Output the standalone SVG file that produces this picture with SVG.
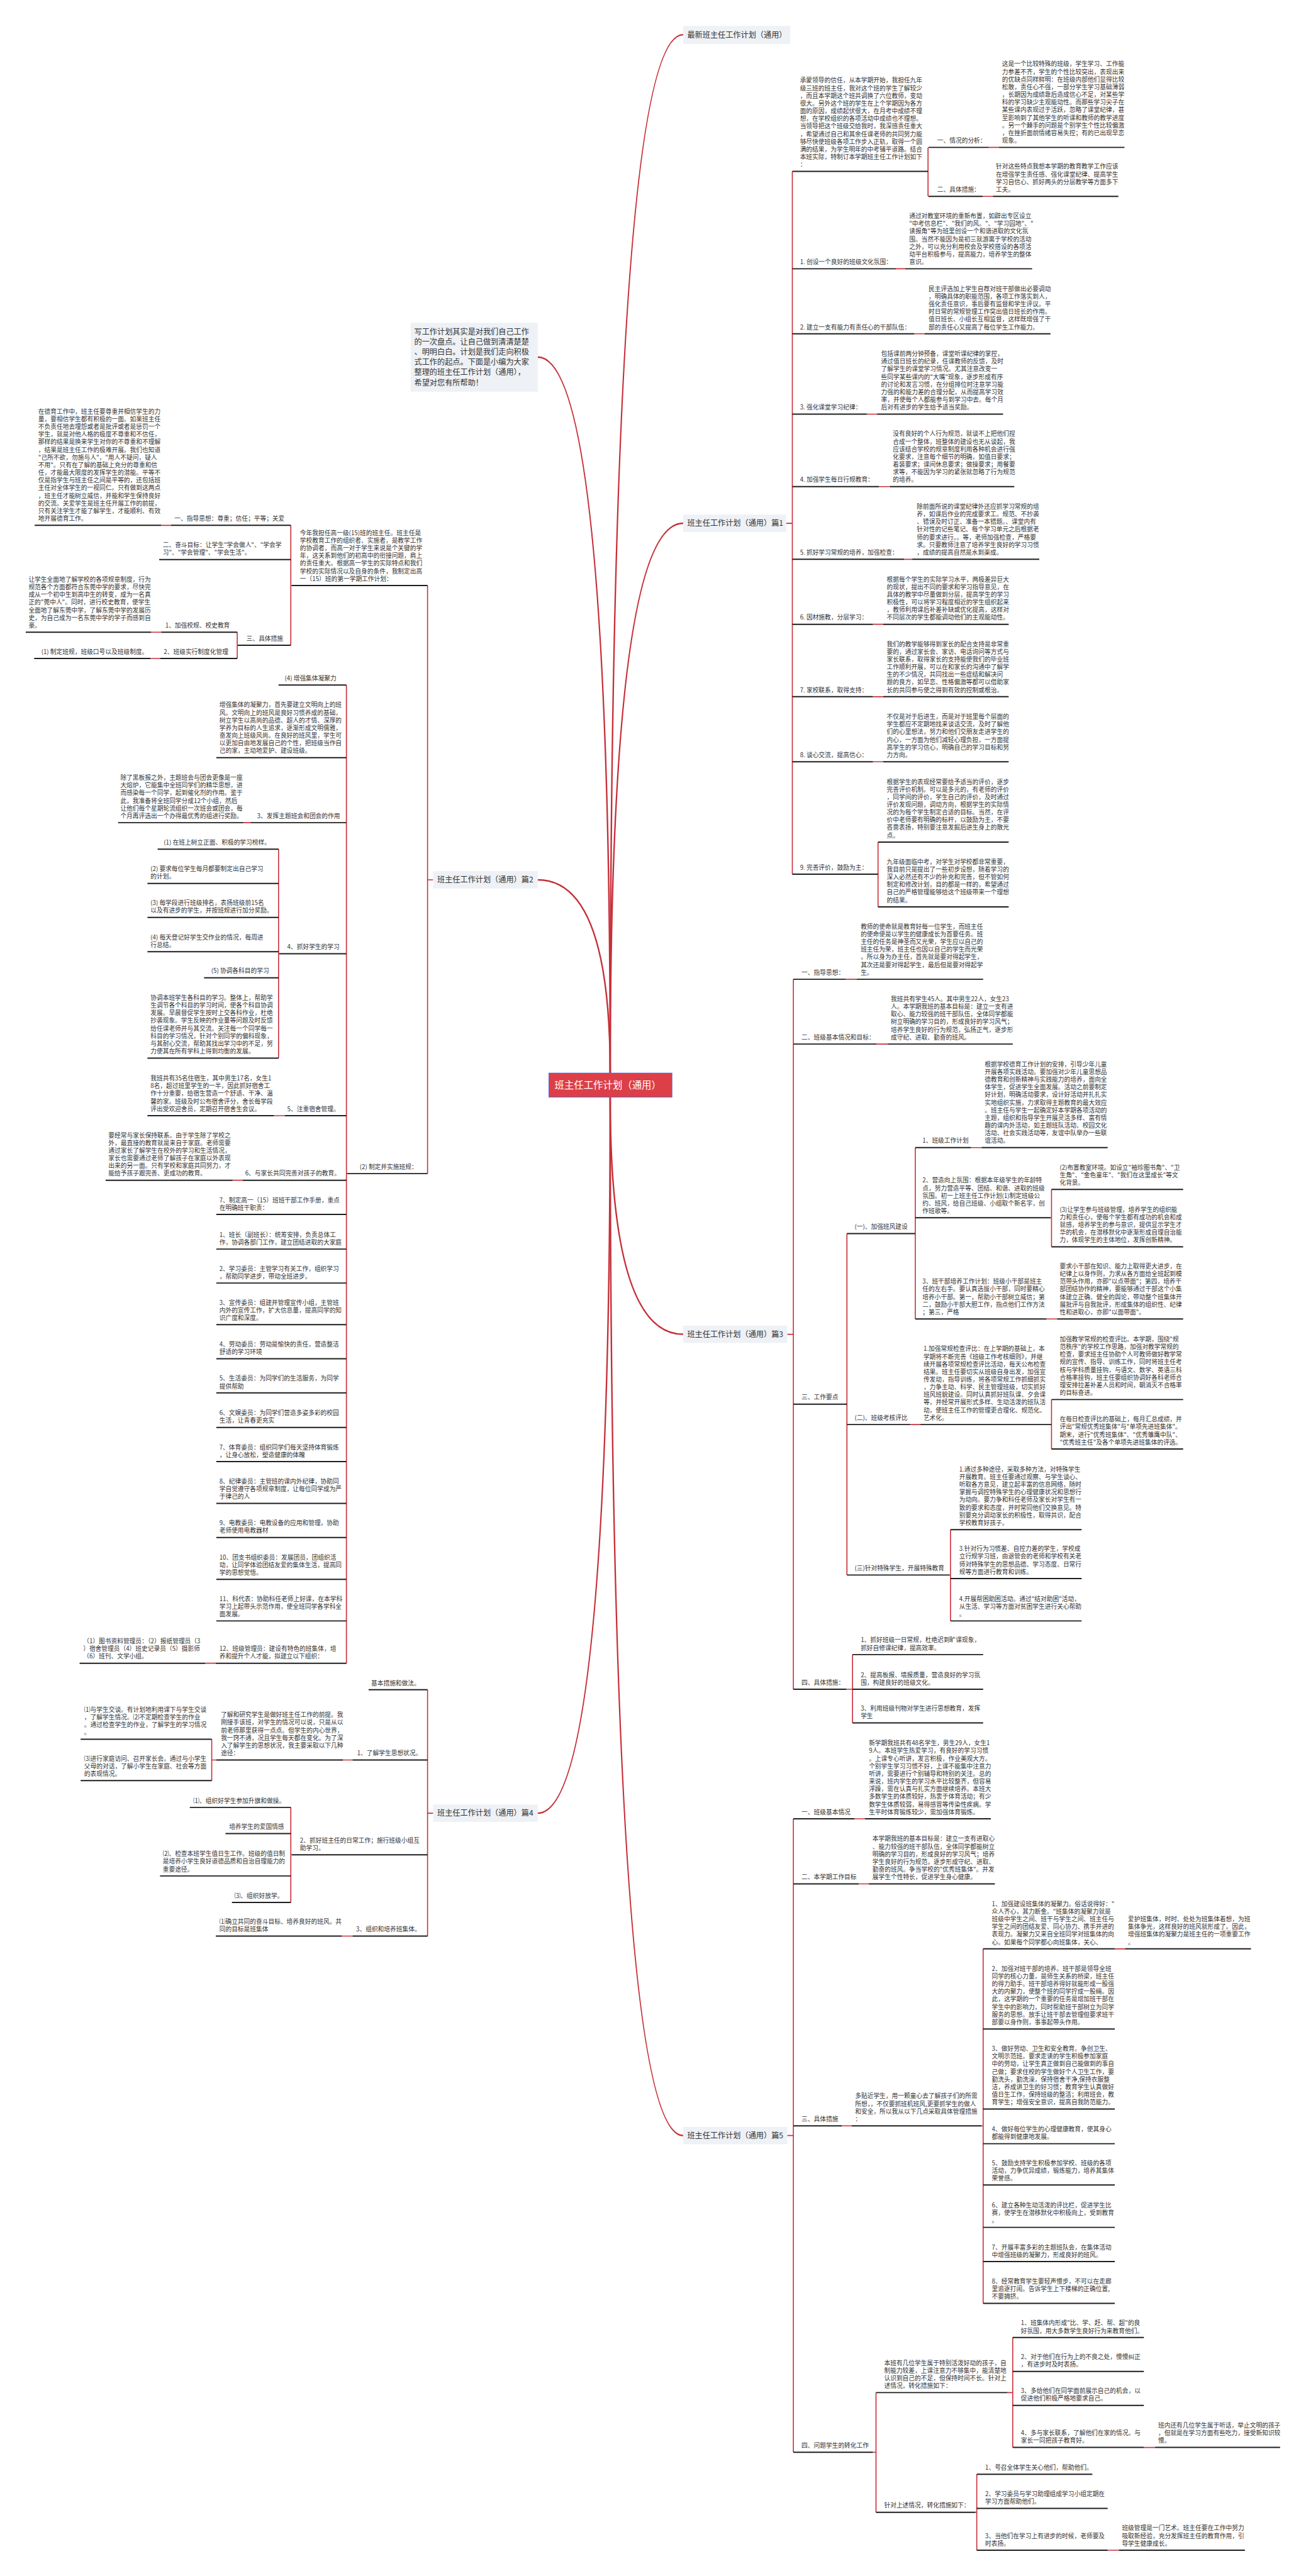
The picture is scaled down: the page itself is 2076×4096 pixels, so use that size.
<svg xmlns="http://www.w3.org/2000/svg" width="2076" height="4096" viewBox="0 0 2076 4096">
<style>
.t{font-family:"Noto Sans CJK SC","Noto Sans",sans-serif;font-size:12px;fill:#333}
.b{font-family:"Noto Sans CJK SC","Noto Sans",sans-serif;font-size:15px;fill:#333}
.i{font-family:"Noto Sans CJK SC","Noto Sans",sans-serif;font-size:15px;fill:#333}
.ct{font-family:"Noto Sans CJK SC","Noto Sans",sans-serif;font-size:19px;fill:#fff}
.u{stroke:#1e1e1e;stroke-width:2.4}
.c{stroke:#c8303a;stroke-width:2;fill:none}
.m{stroke:#c62f38;stroke-width:3;fill:none}
.bx{fill:#eef1f5}
</style>
<rect width="2076" height="4096" fill="#fff"/>
<g transform="scale(0.811)">
<g id="connectors">
<path class="m" d="M1196,2104 Q1196,68 1339,68"/>
<path class="m" d="M1196,2104 Q1196,1026 1339,1026"/>
<path class="m" d="M1196,2104 Q1196,700 1054,700"/>
<path class="m" d="M1196,2104 Q1196,1725 1054,1725"/>
<path class="m" d="M1196,2151 Q1196,2616 1339,2616"/>
<path class="m" d="M1196,2151 Q1196,3555 1054,3555"/>
<path class="m" d="M1196,2151 Q1196,4187 1339,4187"/>
<path class="c" d="M1541,1026H1553M1553,336V1714M1819,289V385M1938,289H1958M1926,385H1946M1756,527H1774M1792,654.5H1812M1699,812H1719M1723,954H1744M1772,1096.6H1788M1711,1224H1731M1711,1366H1731M1711,1493.5H1731M1721,1651V1778"/>
<path class="c" d="M1543,2616H1555M1555,1920V3312M1658,1920H1679M1718,2047H1740M1660,2418.5V3088M1794,2250V2586M1903,2250H1924M2059,2387.6H2061M2061,2332V2444.5M2051,2586H2072M1784,2793H1804M2061,2744V2841M1861,3088H1863M1863,2999V3178M1659,3312H1671M1671,3244V3378"/>
<path class="c" d="M1543,4187H1555M1555,3566V4808M1675,3566H1695M1683,3693.6H1703M1650,4168H1669M1924,4168H1927M1927,3821V4516M2185,3821H2205M1711,4808H1717M1717,4691V4925.6M1974,4691H1985M1985,4583V4798.5M2242,4798.5H2264M1912,4925.6H1914.5M1914.5,4851V5000M2171,5000H2193"/>
<path class="c" d="M849,1725H838M838,1148V2301M572,1148H570M570,1030V1265M335,1030H316M466,1265H465M465,1239.5V1291M316,1239.5H296M314,1291H295M680,2301H679M679,1343V3261M491,1613H477M547,1870H546M546,1665V2074.5M558,2187.5H537M476,2314H456M423,3261H402"/>
<path class="c" d="M849,3555H838M838,3313V3796M691,3450.6H672M424,3450.6H415M415,3410V3491M572,3636.6H570M570,3543.6V3730M691,3796H670"/>
</g>

<g id="center">
<rect x="1076" y="2104" width="241" height="47" fill="#dc3f48" stroke="#6a62c4" stroke-width="1.5"/>
<text class="ct" x="1087" y="2134">班主任工作计划（通用）</text>
</g>

<g id="top"><rect class="bx" x="1339" y="51" width="210" height="35"/><text class="b" x="1347" y="74">最新班主任工作计划（通用）</text></g>

<g id="intro"><rect class="bx" x="805" y="633" width="249" height="135"/>
<text class="i"><tspan x="812" y="655.5">写工作计划其实是对我们自己工作</tspan><tspan x="812" y="675.5">的一次盘点。让自己做到清清楚楚</tspan><tspan x="812" y="695.5">、明明白白。计划是我们走向积极</tspan><tspan x="812" y="715.5">式工作的起点。下面是小编为大家</tspan><tspan x="812" y="735.5">整理的班主任工作计划（通用），</tspan><tspan x="812" y="755.5">希望对您有所帮助！</tspan></text></g>

<!-- 篇1 -->
<g id="p1"><rect class="bx" x="1339" y="1009" width="202" height="34"/><text class="b" x="1347" y="1031">班主任工作计划（通用）篇1</text></g>
<g id="a1"><text class="t"><tspan x="1568" y="162">承蒙领导的信任，从本学期开始，我担任九年</tspan><tspan x="1568" y="177">级三班的班主任，我对这个班的学生了解较少</tspan><tspan x="1568" y="192">，而且本学期这个班共调换了六位教师，变动</tspan><tspan x="1568" y="207">很大。另外这个班的学生在上个学期因为各方</tspan><tspan x="1568" y="222">面的原因，成绩起伏很大，在月考中成绩不理</tspan><tspan x="1568" y="237">想，在学校组织的各项活动中成绩也不理想。</tspan><tspan x="1568" y="252">当领导把这个班级交给我时，我深感责任重大</tspan><tspan x="1568" y="267">，希望通过自己和其余任课老师的共同努力能</tspan><tspan x="1568" y="282">够尽快使班级各项工作步入正轨，取得一个圆</tspan><tspan x="1568" y="297">满的结果，为学生明年的中考铺平道路。结合</tspan><tspan x="1568" y="312">本班实际，特制订本学期班主任工作计划如下</tspan><tspan x="1568" y="327">：</tspan></text><line class="u" x1="1553" y1="336" x2="1819" y2="336"/></g>
<g id="a1a"><text class="t" x="1837" y="280">一、情况的分析：</text><line class="u" x1="1820" y1="289" x2="1938" y2="289"/></g>
<g id="a1a1"><text class="t"><tspan x="1964" y="130">这是一个比较特殊的班级，学生学习、工作能</tspan><tspan x="1964" y="145">力参差不齐，学生的个性比较突出，表现出来</tspan><tspan x="1964" y="160">的优缺点同样鲜明：在班级内部他们显得比较</tspan><tspan x="1964" y="175">松散，责任心不强，一部分学生学习基础薄弱</tspan><tspan x="1964" y="190">，长期因为成绩靠后造成信心不足，对某些学</tspan><tspan x="1964" y="205">科的学习缺少主观能动性。而那些学习尖子在</tspan><tspan x="1964" y="220">某些课内表现过于活跃，忽略了课堂纪律，甚</tspan><tspan x="1964" y="235">至影响到了其他学生的听课和教师的教学进度</tspan><tspan x="1964" y="250">。另一个棘手的问题是个别学生个性比较偏激</tspan><tspan x="1964" y="265">，在挫折面前情绪容易失控；有的已出现早恋</tspan><tspan x="1964" y="280">现象。</tspan></text><line class="u" x1="1958" y1="289" x2="2204" y2="289"/></g>
<g id="a1b"><text class="t" x="1837" y="376">二、具体措施：</text><line class="u" x1="1820" y1="385" x2="1926" y2="385"/></g>
<g id="a1b1"><text class="t"><tspan x="1952" y="331">针对这些特点我想本学期的教育教学工作应该</tspan><tspan x="1952" y="346">在增强学生责任感、强化课堂纪律、提高学生</tspan><tspan x="1952" y="361">学习自信心、抓好两头的分层教学等方面多下</tspan><tspan x="1952" y="376">工夫。</tspan></text><line class="u" x1="1946" y1="385" x2="2192" y2="385"/></g>
<g id="a2"><text class="t" x="1568" y="518">1. 创设一个良好的班级文化氛围：</text><line class="u" x1="1553" y1="527" x2="1756" y2="527"/></g>
<g id="a2a"><text class="t"><tspan x="1782" y="428">通过对教室环境的重新布置，如辟出专区设立</tspan><tspan x="1782" y="443">"中考信息栏"、"我们的风。"、"学习园地"、"</tspan><tspan x="1782" y="458">读报角"等为班里创设一个和谐进取的文化氛</tspan><tspan x="1782" y="473">围。当然不能因为是初三就游离于学校的活动</tspan><tspan x="1782" y="488">之外，可以充分利用校会及学校搭设的各项活</tspan><tspan x="1782" y="503">动平台积极参与，提高能力，培养学生的整体</tspan><tspan x="1782" y="518">意识。</tspan></text><line class="u" x1="1774" y1="527" x2="2023" y2="527"/></g>
<g id="a3"><text class="t" x="1568" y="645.5">2. 建立一支有能力有责任心的干部队伍：</text><line class="u" x1="1553" y1="654.5" x2="1792" y2="654.5"/></g>
<g id="a3a"><text class="t"><tspan x="1820" y="570.5">民主评选加上学生自荐对班干部做出必要调动</tspan><tspan x="1820" y="585.5">，明确具体的职能范围，各项工作落实到人，</tspan><tspan x="1820" y="600.5">强化责任意识，事后要有监督和学生评议。平</tspan><tspan x="1820" y="615.5">时日常的常规管理工作突出值日班长的作用。</tspan><tspan x="1820" y="630.5">值日班长、小组长互相监督，这样既增强了干</tspan><tspan x="1820" y="645.5">部的责任心又提高了每位学生工作能力。</tspan></text><line class="u" x1="1812" y1="654.5" x2="2059" y2="654.5"/></g>
<g id="a4"><text class="t" x="1568" y="803">3. 强化课堂学习纪律：</text><line class="u" x1="1553" y1="812" x2="1699" y2="812"/></g>
<g id="a4a"><text class="t"><tspan x="1727" y="698">包括课前两分钟预备，课堂听课纪律的掌控，</tspan><tspan x="1727" y="713">通过值日班长的纪录，任课教师的反馈，及时</tspan><tspan x="1727" y="728">了解学生的课堂学习情况。尤其注意改变一</tspan><tspan x="1727" y="743">些同学某些课内的"大嘴"现象，逐步形成有序</tspan><tspan x="1727" y="758">的讨论和发言习惯，在分组排位时注意学习能</tspan><tspan x="1727" y="773">力强的和能力差的合理分配，从而提高学习效</tspan><tspan x="1727" y="788">率，并使每个人都能参与到学习中去。每个月</tspan><tspan x="1727" y="803">后对有进步的学生给予适当奖励。</tspan></text><line class="u" x1="1719" y1="812" x2="1966" y2="812"/></g>
<g id="a5"><text class="t" x="1568" y="945">4. 加强学生每日行规教育：</text><line class="u" x1="1553" y1="954" x2="1723" y2="954"/></g>
<g id="a5a"><text class="t"><tspan x="1750" y="855">没有良好的个人行为规范，就谈不上把他们捏</tspan><tspan x="1750" y="870">合成一个整体，班整体的建设也无从谈起，我</tspan><tspan x="1750" y="885">应该结合学校的规章制度利用各种机会进行强</tspan><tspan x="1750" y="900">化要求，注意每个细节的明确，如值日要求；</tspan><tspan x="1750" y="915">着装要求；课间休息要求；做操要求；用餐要</tspan><tspan x="1750" y="930">求等，不能因为学习的紧张就忽略了行为规范</tspan><tspan x="1750" y="945">的培养。</tspan></text><line class="u" x1="1744" y1="954" x2="1988" y2="954"/></g>
<g id="a6"><text class="t" x="1568" y="1087.5">5. 抓好学习常规的培养，加强检查：</text><line class="u" x1="1553" y1="1096.6" x2="1772" y2="1096.6"/></g>
<g id="a6a"><text class="t"><tspan x="1797" y="997.5">除前面所说的课堂纪律外还应抓学习常规的培</tspan><tspan x="1797" y="1012.5">养，如课后作业的完成要求工。规范、不抄袭</tspan><tspan x="1797" y="1027.5">、错误及时订正、准备一本错题。、课堂内有</tspan><tspan x="1797" y="1042.5">针对性的记些笔记、每个学习单元之后根据老</tspan><tspan x="1797" y="1057.5">师的要求进行。。等，老师加强检查，严格要</tspan><tspan x="1797" y="1072.5">求。只要教师注意了培养学生良好的学习习惯</tspan><tspan x="1797" y="1087.5">，成绩的提高自然是水到渠成。</tspan></text><line class="u" x1="1788" y1="1096.6" x2="2037" y2="1096.6"/></g>
<g id="a7"><text class="t" x="1568" y="1215">6. 因材施教，分层学习：</text><line class="u" x1="1553" y1="1224" x2="1711" y2="1224"/></g>
<g id="a7a"><text class="t"><tspan x="1738" y="1140">根据每个学生的实际学习水平，两极差异巨大</tspan><tspan x="1738" y="1155">的现状，提出不同的要求和学习指导意见，在</tspan><tspan x="1738" y="1170">具体的教学中尽量做到分层，提高学生的学习</tspan><tspan x="1738" y="1185">积极性，可以将学习程度相近的学生组织起来</tspan><tspan x="1738" y="1200">，教师利用课后补差补缺或优化提高，这样对</tspan><tspan x="1738" y="1215">不同层次的学生都能调动他们的主观能动性。</tspan></text><line class="u" x1="1731" y1="1224" x2="1977" y2="1224"/></g>
<g id="a8"><text class="t" x="1568" y="1357">7. 家校联系，取得支持：</text><line class="u" x1="1553" y1="1366" x2="1711" y2="1366"/></g>
<g id="a8a"><text class="t"><tspan x="1738" y="1267">我们的教学能够得到家长的配合支持是非常重</tspan><tspan x="1738" y="1282">要的，通过家长会、家访、电话询问等方式与</tspan><tspan x="1738" y="1297">家长联系，取得家长的支持能使我们的毕业班</tspan><tspan x="1738" y="1312">工作顺利开展，可以在和家长的沟通中了解学</tspan><tspan x="1738" y="1327">生的不少情况，共同找出一些症结和解决问</tspan><tspan x="1738" y="1342">题的良方，如早恋、性格偏激等都可以借助家</tspan><tspan x="1738" y="1357">长的共同参与使之得到有效的控制或根治。</tspan></text><line class="u" x1="1731" y1="1366" x2="1977" y2="1366"/></g>
<g id="a9"><text class="t" x="1568" y="1484.5">8. 谈心交流，提高信心：</text><line class="u" x1="1553" y1="1493.5" x2="1711" y2="1493.5"/></g>
<g id="a9a"><text class="t"><tspan x="1738" y="1409.5">不仅是对于后进生，而是对于班里每个层面的</tspan><tspan x="1738" y="1424.5">学生都应不定期地找来谈话交流，及时了解他</tspan><tspan x="1738" y="1439.5">们的心里想法，努力和他们交朋友走进学生的</tspan><tspan x="1738" y="1454.5">内心，一方面为他们减轻心理负担，一方面提</tspan><tspan x="1738" y="1469.5">高学生的学习信心，明确自己的学习目标和努</tspan><tspan x="1738" y="1484.5">力方向。</tspan></text><line class="u" x1="1731" y1="1493.5" x2="1977" y2="1493.5"/></g>
<g id="a10"><text class="t" x="1568" y="1705">9. 完善评价，鼓励为主：</text><line class="u" x1="1553" y1="1714" x2="1721" y2="1714"/></g>
<g id="a10a"><text class="t"><tspan x="1738" y="1537">根据学生的表现经常要给予适当的评价，逐步</tspan><tspan x="1738" y="1552">完善评价机制。可以是多元的，有老师的评价</tspan><tspan x="1738" y="1567">，同学间的评价，学生自己的评价，及时通过</tspan><tspan x="1738" y="1582">评价发现问题，调动方向，根据学生的实际情</tspan><tspan x="1738" y="1597">况的为每个学生制定合适的目标。当然，在评</tspan><tspan x="1738" y="1612">价中老师要有明确的标杆，以鼓励为主，不要</tspan><tspan x="1738" y="1627">吝啬表扬，特别要注意发掘后进生身上的散光</tspan><tspan x="1738" y="1642">点。</tspan></text><line class="u" x1="1721" y1="1651" x2="1977" y2="1651"/></g>
<g id="a10b"><text class="t"><tspan x="1738" y="1694">九年级面临中考，对学生对学校都非常重要，</tspan><tspan x="1738" y="1709">我目前只是提出了一些初步设想，随着学习的</tspan><tspan x="1738" y="1724">深入必然还有不少的补充和完善，但不管如何</tspan><tspan x="1738" y="1739">制定和修改计划，目的都是一样的，希望通过</tspan><tspan x="1738" y="1754">自己的严格管理能够给这个班级带来一个理想</tspan><tspan x="1738" y="1769">的结果。</tspan></text><line class="u" x1="1721" y1="1778" x2="1977" y2="1778"/></g>

<!-- 篇3 -->
<g id="p3"><rect class="bx" x="1339" y="2599" width="204" height="34"/><text class="b" x="1347" y="2621">班主任工作计划（通用）篇3</text></g>
<g id="b1"><text class="t" x="1571" y="1911">一、指导思想：</text><line class="u" x1="1555" y1="1920" x2="1658" y2="1920"/></g>
<g id="b1a"><text class="t"><tspan x="1687" y="1821">教师的使命就是教育好每一位学生，而班主任</tspan><tspan x="1687" y="1836">的使命便是以学生的健康成长为首要任务。班</tspan><tspan x="1687" y="1851">主任的任务是神圣而又光荣，学生应以自己的</tspan><tspan x="1687" y="1866">班主任为荣，班主任也因以自己的学生而光荣</tspan><tspan x="1687" y="1881">。所以身为办主任，首先就是要对得起学生，</tspan><tspan x="1687" y="1896">其次还是要对得起学生，最后但是要对得起学</tspan><tspan x="1687" y="1911">生。</tspan></text><line class="u" x1="1679" y1="1920" x2="1927" y2="1920"/></g>
<g id="b2"><text class="t" x="1571" y="2038">二、班级基本情况和目标：</text><line class="u" x1="1555" y1="2047" x2="1718" y2="2047"/></g>
<g id="b2a"><text class="t"><tspan x="1746" y="1963">我班共有学生45人。其中男生22人，女生23</tspan><tspan x="1746" y="1978">人。本学期我班的基本目标是：建立一支有进</tspan><tspan x="1746" y="1993">取心、能力较强的班干部队伍，全体同学都能</tspan><tspan x="1746" y="2008">树立明确的学习目的，形成良好的学习风气；</tspan><tspan x="1746" y="2023">培养学生良好的行为规范，弘扬正气，逐步形</tspan><tspan x="1746" y="2038">成守纪、进取、勤奋的班风。</tspan></text><line class="u" x1="1740" y1="2047" x2="1985" y2="2047"/></g>
<g id="b3"><text class="t" x="1571" y="2744">三、工作要点</text><line class="u" x1="1555" y1="2753" x2="1660" y2="2753"/></g>
<g id="b3a"><text class="t" x="1675" y="2409.5">(一)、加强班风建设</text><line class="u" x1="1660" y1="2418.5" x2="1794" y2="2418.5"/></g>
<g id="b3a1"><text class="t" x="1808" y="2241">1、班级工作计划</text><line class="u" x1="1794" y1="2250" x2="1903" y2="2250"/></g>
<g id="b3a1a"><text class="t"><tspan x="1930" y="2091">根据学校德育工作计划的安排，引导少年儿童</tspan><tspan x="1930" y="2106">开展各项实践活动。要加强对少年儿童思想品</tspan><tspan x="1930" y="2121">德教育和创新精神与实践能力的培养，面向全</tspan><tspan x="1930" y="2136">体学生，促进学生全面发展。活动之前要制定</tspan><tspan x="1930" y="2151">好计划，明确活动要求，设计好活动并扎扎实</tspan><tspan x="1930" y="2166">实地组织实施，力求取得主题教育的最大效应</tspan><tspan x="1930" y="2181">。班主任与学生一起确定好本学期各项活动的</tspan><tspan x="1930" y="2196">主题，组织和指导学生开展灵活多样、富有情</tspan><tspan x="1930" y="2211">趣的课内外活动，如主题班队活动、校园文化</tspan><tspan x="1930" y="2226">活动、社会实践活动等，友谊中队举办一些联</tspan><tspan x="1930" y="2241">谊活动。</tspan></text><line class="u" x1="1924" y1="2250" x2="2171" y2="2250"/></g>
<g id="b3a2"><text class="t"><tspan x="1808" y="2318.6">2、营造向上氛围：根据本年级学生的年龄特</tspan><tspan x="1808" y="2333.6">点，努力营造平等、团结、和谐、进取的班级</tspan><tspan x="1808" y="2348.6">氛围。初一上班主任工作计划(1)制定班级公</tspan><tspan x="1808" y="2363.6">约、班风，给自己班级、小组取个新名字，创</tspan><tspan x="1808" y="2378.6">作班歌等。</tspan></text><line class="u" x1="1794" y1="2387.6" x2="2059" y2="2387.6"/></g>
<g id="b3a2a"><text class="t"><tspan x="2077" y="2293">(2)布置教室环境。如设立"袖珍图书角"、"卫</tspan><tspan x="2077" y="2308">生角"、"金色童年"、"我们在这里成长"等文</tspan><tspan x="2077" y="2323">化背景。</tspan></text><line class="u" x1="2061" y1="2332" x2="2319" y2="2332"/></g>
<g id="b3a2b"><text class="t"><tspan x="2077" y="2375.5">(3)让学生参与班级管理，培养学生的组织能</tspan><tspan x="2077" y="2390.5">力和责任心，使每个学生都有成功的机会和成</tspan><tspan x="2077" y="2405.5">就感，培养学生的参与意识，提供显示学生才</tspan><tspan x="2077" y="2420.5">华的机会，在潜移默化中逐渐形成自理自治能</tspan><tspan x="2077" y="2435.5">力，体现学生的主体地位，发挥创新精神。</tspan></text><line class="u" x1="2061" y1="2444.5" x2="2319" y2="2444.5"/></g>
<g id="b3a3"><text class="t"><tspan x="1808" y="2517">3、班干部培养工作计划：班级小干部是班主</tspan><tspan x="1808" y="2532">任的左右手。要认真选拔小干部，同时要精心</tspan><tspan x="1808" y="2547">培养小干部。第一，帮助小干部树立威信；第</tspan><tspan x="1808" y="2562">二，鼓励小干部大胆工作，指点他们工作方法</tspan><tspan x="1808" y="2577">；第三，严格</tspan></text><line class="u" x1="1794" y1="2586" x2="2051" y2="2586"/></g>
<g id="b3a3a"><text class="t"><tspan x="2077" y="2487">要求小干部在知识、能力上取得更大进步，在</tspan><tspan x="2077" y="2502">纪律上以身作则，力求从各方面给全班起到模</tspan><tspan x="2077" y="2517">范带头作用，亦即"以点带面"；第四，培养干</tspan><tspan x="2077" y="2532">部团结协作的精神，要能够通过干部这个小集</tspan><tspan x="2077" y="2547">体建立正确、健全的舆论，带动整个班集体开</tspan><tspan x="2077" y="2562">展批评与自我批评，形成集体的组织性、纪律</tspan><tspan x="2077" y="2577">性和进取心，亦即"以面带面"。</tspan></text><line class="u" x1="2072" y1="2586" x2="2319" y2="2586"/></g>
<g id="b3b"><text class="t" x="1675" y="2784">(二)、班级考核评比</text><line class="u" x1="1660" y1="2793" x2="1784" y2="2793"/></g>
<g id="b3b1"><text class="t"><tspan x="1810" y="2649">1.加强常规检查评比：在上学期的基础上，本</tspan><tspan x="1810" y="2664">学期将不断完善《班级工作考核细则》，并继</tspan><tspan x="1810" y="2679">续开展各项常规检查评比活动，每天公布检查</tspan><tspan x="1810" y="2694">结果。班主任要切实从班级自身出发，加强宣</tspan><tspan x="1810" y="2709">传发动，指导训练，将各项常规工作抓细抓实</tspan><tspan x="1810" y="2724">，力争主动、科学、民主管理班级，切实抓好</tspan><tspan x="1810" y="2739">班风班貌建设。同时认真抓好班队课、夕会课</tspan><tspan x="1810" y="2754">等，并经常开展形式多样、生动活泼的班队活</tspan><tspan x="1810" y="2769">动，使班主任工作的管理更合理化、规范化、</tspan><tspan x="1810" y="2784">艺术化。</tspan></text><line class="u" x1="1804" y1="2793" x2="2061" y2="2793"/></g>
<g id="b3b1a"><text class="t"><tspan x="2077" y="2630">加强教学常规的检查评比。本学期，围绕"规</tspan><tspan x="2077" y="2645">范秩序"的学校工作思路，加强对教学常规的</tspan><tspan x="2077" y="2660">检查，要求班主任协助个人可教师做好教学常</tspan><tspan x="2077" y="2675">规的宣传、指导、训练工作，同时将班主任考</tspan><tspan x="2077" y="2690">核与学科质量挂钩，与语文、数学、英语三科</tspan><tspan x="2077" y="2705">合格率挂钩，班主任要组织协调好各科老师合</tspan><tspan x="2077" y="2720">理安排拉差补差人员和时间，朝消灭不合格率</tspan><tspan x="2077" y="2735">的目标奋进。</tspan></text><line class="u" x1="2061" y1="2744" x2="2319" y2="2744"/></g>
<g id="b3b1b"><text class="t"><tspan x="2077" y="2787">在每日检查评比的基础上，每月汇总成绩，并</tspan><tspan x="2077" y="2802">评出"常规优秀班集体"与"单项先进班集体"。</tspan><tspan x="2077" y="2817">期末，进行"优秀班集体"、"优秀雏鹰中队"、</tspan><tspan x="2077" y="2832">"优秀班主任"及各个单项先进班集体的评选。</tspan></text><line class="u" x1="2061" y1="2841" x2="2319" y2="2841"/></g>
<g id="b3c"><text class="t" x="1675" y="3079">(三)针对特殊学生，开展特殊教育</text><line class="u" x1="1660" y1="3088" x2="1861" y2="3088"/></g>
<g id="b3c1"><text class="t"><tspan x="1880" y="2885">1.通过多种途径，采取多种方法，对特殊学生</tspan><tspan x="1880" y="2900">开展教育。班主任要通过观察、与学生谈心、</tspan><tspan x="1880" y="2915">听取各方意见，建立起丰富的信息网络，随时</tspan><tspan x="1880" y="2930">掌握与调控特殊学生的心理健康状况和思想行</tspan><tspan x="1880" y="2945">为动向。要力争和科任老师及家长对学生有一</tspan><tspan x="1880" y="2960">致的要求和态度，并时常同他们交换意见。特</tspan><tspan x="1880" y="2975">别要充分调动家长的积极性，取得共识，配合</tspan><tspan x="1880" y="2990">学校教育好孩子。</tspan></text><line class="u" x1="1863" y1="2999" x2="2120" y2="2999"/></g>
<g id="b3c2"><text class="t"><tspan x="1880" y="3041">3.针对行为习惯差、自控力差的学生，学校成</tspan><tspan x="1880" y="3056">立行规学习班，由退管会的老师和学校有关老</tspan><tspan x="1880" y="3071">师对特殊学生的思想品德、学习态度、日常行</tspan><tspan x="1880" y="3086">规等方面进行教育和训练。</tspan></text><line class="u" x1="1863" y1="3095" x2="2120" y2="3095"/></g>
<g id="b3c3"><text class="t"><tspan x="1880" y="3139">4.开展帮困助困活动。通过"结对助困"活动，</tspan><tspan x="1880" y="3154">从生活、学习等方面对贫困学生进行关心帮助</tspan><tspan x="1880" y="3169">。</tspan></text><line class="u" x1="1863" y1="3178" x2="2120" y2="3178"/></g>
<g id="b4"><text class="t" x="1571" y="3303">四、具体措施：</text><line class="u" x1="1555" y1="3312" x2="1659" y2="3312"/></g>
<g id="b4a"><text class="t"><tspan x="1687" y="3220">1、抓好班级一日常规，杜绝迟到旷课现象，</tspan><tspan x="1687" y="3235">抓好自修课纪律，提高效率。</tspan></text><line class="u" x1="1671" y1="3244" x2="1927" y2="3244"/></g>
<g id="b4b"><text class="t"><tspan x="1687" y="3288">2、提高板报、墙报质量，营造良好的学习氛</tspan><tspan x="1687" y="3303">围，构建良好的班级文化。</tspan></text><line class="u" x1="1671" y1="3312" x2="1927" y2="3312"/></g>
<g id="b4c"><text class="t"><tspan x="1687" y="3354">3、利用班级刊物对学生进行思想教育，发挥</tspan><tspan x="1687" y="3369">学生</tspan></text><line class="u" x1="1671" y1="3378" x2="1927" y2="3378"/></g>

<!-- 篇5 -->
<g id="p5"><rect class="bx" x="1339" y="4170" width="204" height="34"/><text class="b" x="1347" y="4192">班主任工作计划（通用）篇5</text></g>
<g id="c1"><text class="t" x="1571" y="3557">一、班级基本情况</text><line class="u" x1="1555" y1="3566" x2="1675" y2="3566"/></g>
<g id="c1a"><text class="t"><tspan x="1703" y="3422">新学期我班共有48名学生，男生29人，女生1</tspan><tspan x="1703" y="3437">9人。本班学生热爱学习，有良好的学习习惯</tspan><tspan x="1703" y="3452">。上课专心听讲，发言积极，作业美观大方。</tspan><tspan x="1703" y="3467">个别学生学习习惯不好，上课不能集中注意力</tspan><tspan x="1703" y="3482">听讲，需要进行个别辅导和特别的关注。总的</tspan><tspan x="1703" y="3497">来说，班内学生的学习水平比较整齐，但容易</tspan><tspan x="1703" y="3512">浮躁，需在认真与扎实方面继续培养。本班大</tspan><tspan x="1703" y="3527">多数学生的体质较好，热衷于体育活动；有少</tspan><tspan x="1703" y="3542">数学生体质较弱，易得感冒等传染性疾病。学</tspan><tspan x="1703" y="3557">生平时体育锻炼较少，需加强体育锻炼。</tspan></text><line class="u" x1="1695" y1="3566" x2="1942" y2="3566"/></g>
<g id="c2"><text class="t" x="1571" y="3684.6">二、本学期工作目标</text><line class="u" x1="1555" y1="3693.6" x2="1683" y2="3693.6"/></g>
<g id="c2a"><text class="t"><tspan x="1710" y="3609.6">本学期我班的基本目标是：建立一支有进取心</tspan><tspan x="1710" y="3624.6">、能力较强的班干部队伍，全体同学都能树立</tspan><tspan x="1710" y="3639.6">明确的学习目的，形成良好的学习风气；培养</tspan><tspan x="1710" y="3654.6">学生良好的行为规范，逐步形成守纪、进取、</tspan><tspan x="1710" y="3669.6">勤奋的班风。争当学校的"优秀班集体"。并发</tspan><tspan x="1710" y="3684.6">展学生个性特长，促进学生身心健康。</tspan></text><line class="u" x1="1703" y1="3693.6" x2="1950" y2="3693.6"/></g>
<g id="c3"><text class="t" x="1571" y="4159">三、具体措施</text><line class="u" x1="1555" y1="4168" x2="1650" y2="4168"/></g>
<g id="c3a"><text class="t"><tspan x="1676" y="4114">多贴近学生，用一颗童心去了解孩子们的所需</tspan><tspan x="1676" y="4129">所想，，不仅要抓班机班风,更要抓学生的做人</tspan><tspan x="1676" y="4144">和安全，所以我从以下几点采取具体管理措施</tspan><tspan x="1676" y="4159">：</tspan></text><line class="u" x1="1669" y1="4168" x2="1924" y2="4168"/></g>
<g id="c3a1"><text class="t"><tspan x="1944" y="3737">1、加强建设班集体的凝聚力。俗话说得好："</tspan><tspan x="1944" y="3752">众人齐心，其力断金。"班集体的凝聚力就是</tspan><tspan x="1944" y="3767">班级中学生之间、班干与学生之间、班主任与</tspan><tspan x="1944" y="3782">学生之间的团结友爱、同心协力、携手并进的</tspan><tspan x="1944" y="3797">表现力。凝聚力又来自全班同学对班集体的向</tspan><tspan x="1944" y="3812">心。如果每个同学都心向班集体，关心、</tspan></text><line class="u" x1="1927" y1="3821" x2="2185" y2="3821"/></g>
<g id="c3a1a"><text class="t"><tspan x="2211" y="3767">爱护班集体，时时、处处为班集体着想，为班</tspan><tspan x="2211" y="3782">集体争光，这样良好的班风就形成了。因此，</tspan><tspan x="2211" y="3797">增强班集体的凝聚力是班主任的一项重要工作</tspan><tspan x="2211" y="3812">。</tspan></text><line class="u" x1="2205" y1="3821" x2="2452" y2="3821"/></g>
<g id="c3a2"><text class="t"><tspan x="1944" y="3864">2、加强对班干部的培养。班干部是领导全班</tspan><tspan x="1944" y="3879">同学的核心力量，是师生关系的桥梁，班主任</tspan><tspan x="1944" y="3894">的得力助手。班干部培养得好就能形成一股强</tspan><tspan x="1944" y="3909">大的内聚力，使整个班的同学拧成一股绳。因</tspan><tspan x="1944" y="3924">此，这学期的一个重要的任务是增加班干部在</tspan><tspan x="1944" y="3939">学生中的影响力，同时帮助班干部树立为同学</tspan><tspan x="1944" y="3954">服务的思想。放手让班干部去管理但要求班干</tspan><tspan x="1944" y="3969">部要以身作则，事事起带头作用。</tspan></text><line class="u" x1="1927" y1="3978" x2="2185" y2="3978"/></g>
<g id="c3a3"><text class="t"><tspan x="1944" y="4021">3、做好劳动、卫生和安全教育。争创卫生、</tspan><tspan x="1944" y="4036">文明示范班。要求走读的学生积极参加家庭</tspan><tspan x="1944" y="4051">中的劳动，让学生真正做到自己能做到的事自</tspan><tspan x="1944" y="4066">己做；要求住校的学生做好个人卫生工作，要</tspan><tspan x="1944" y="4081">勤洗头，勤洗澡，保持宿舍干净,保持衣服整</tspan><tspan x="1944" y="4096">洁，养成讲卫生的好习惯；教育学生认真做好</tspan><tspan x="1944" y="4111">值日生工作，保持班级的整洁；利用班会，教</tspan><tspan x="1944" y="4126">育学生；增强安全意识，提高自我防范能力。</tspan></text><line class="u" x1="1927" y1="4135" x2="2185" y2="4135"/></g>
<g id="c3a4"><text class="t"><tspan x="1944" y="4179">4、做好每位学生的心理健康教育，使其身心</tspan><tspan x="1944" y="4194">都能得到健康地发展。</tspan></text><line class="u" x1="1927" y1="4203" x2="2185" y2="4203"/></g>
<g id="c3a5"><text class="t"><tspan x="1944" y="4245">5、鼓励支持学生积极参加学校、班级的各项</tspan><tspan x="1944" y="4260">活动，力争优异成绩，锻炼能力，培养其集体</tspan><tspan x="1944" y="4275">荣誉感。</tspan></text><line class="u" x1="1927" y1="4284" x2="2185" y2="4284"/></g>
<g id="c3a6"><text class="t"><tspan x="1944" y="4328">6、建立各种生动活泼的评比栏，促进学生比</tspan><tspan x="1944" y="4343">赛，使学生在潜移默化中积极向上，受到教育</tspan><tspan x="1944" y="4358">。</tspan></text><line class="u" x1="1927" y1="4367" x2="2185" y2="4367"/></g>
<g id="c3a7"><text class="t"><tspan x="1944" y="4410">7、开展丰富多彩的主题班队会，在集体活动</tspan><tspan x="1944" y="4425">中增强班级的凝聚力，形成良好的班风。</tspan></text><line class="u" x1="1927" y1="4434" x2="2185" y2="4434"/></g>
<g id="c3a8"><text class="t"><tspan x="1944" y="4477">8、经常教育学生要轻声慢步，不可以在走廊</tspan><tspan x="1944" y="4492">里追逐打闹。告诉学生上下楼梯的正确位置,</tspan><tspan x="1944" y="4507">不要拥挤。</tspan></text><line class="u" x1="1927" y1="4516" x2="2185" y2="4516"/></g>
<g id="c4"><text class="t" x="1571" y="4799">四、问题学生的转化工作</text><line class="u" x1="1555" y1="4808" x2="1711" y2="4808"/></g>
<g id="c4a"><text class="t"><tspan x="1733" y="4637">本班有几位学生属于特别活泼好动的孩子，自</tspan><tspan x="1733" y="4652">制能力较差，上课注意力不够集中，能清楚地</tspan><tspan x="1733" y="4667">认识到自己的不足，但保持时间不长。针对上</tspan><tspan x="1733" y="4682">述情况，转化措施如下：</tspan></text><line class="u" x1="1717" y1="4691" x2="1974" y2="4691"/></g>
<g id="c4a1"><text class="t"><tspan x="2001" y="4559">1、班集体内形成"比、学、赶、帮、超"的良</tspan><tspan x="2001" y="4574">好氛围，用大多数学生良好行为来教育他们。</tspan></text><line class="u" x1="1985" y1="4583" x2="2242" y2="4583"/></g>
<g id="c4a2"><text class="t"><tspan x="2001" y="4625.5">2、对于他们在行为上的不良之处，慢慢纠正</tspan><tspan x="2001" y="4640.5">，有进步时及时表扬。</tspan></text><line class="u" x1="1985" y1="4649.5" x2="2242" y2="4649.5"/></g>
<g id="c4a3"><text class="t"><tspan x="2001" y="4692">3、多给他们在同学面前展示自己的机会，以</tspan><tspan x="2001" y="4707">促进他们积极严格地要求自己。</tspan></text><line class="u" x1="1985" y1="4716" x2="2242" y2="4716"/></g>
<g id="c4a4"><text class="t"><tspan x="2001" y="4774.5">4、多与家长联系，了解他们在家的情况。与</tspan><tspan x="2001" y="4789.5">家长一同把孩子教育好。</tspan></text><line class="u" x1="1985" y1="4798.5" x2="2242" y2="4798.5"/></g>
<g id="c4a4a"><text class="t"><tspan x="2270" y="4759.5">班内还有几位学生属于听话，举止文明的孩子</tspan><tspan x="2270" y="4774.5">，但就是在学习方面有些吃力，接受新知识较</tspan><tspan x="2270" y="4789.5">慢。</tspan></text><line class="u" x1="2264" y1="4798.5" x2="2509" y2="4798.5"/></g>
<g id="c4b"><text class="t" x="1733" y="4916.6">针对上述情况，转化措施如下：</text><line class="u" x1="1717" y1="4925.6" x2="1912" y2="4925.6"/></g>
<g id="c4b1"><text class="t" x="1931" y="4842">1、号召全体学生关心他们，帮助他们。</text><line class="u" x1="1914.5" y1="4851" x2="2141" y2="4851"/></g>
<g id="c4b2"><text class="t"><tspan x="1931" y="4894">2、学习委员与学习助理组成学习小组定期在</tspan><tspan x="1931" y="4909">学习方面帮助他们。</tspan></text><line class="u" x1="1914.5" y1="4918" x2="2171" y2="4918"/></g>
<g id="c4b3"><text class="t"><tspan x="1931" y="4976">3、当他们在学习上有进步的时候，老师要及</tspan><tspan x="1931" y="4991">时表扬。</tspan></text><line class="u" x1="1914.5" y1="5000" x2="2171" y2="5000"/></g>
<g id="c4b3a"><text class="t"><tspan x="2199" y="4961">班级管理是一门艺术。班主任要在工作中努力</tspan><tspan x="2199" y="4976">吸取新经验，充分发挥班主任的教育作用，引</tspan><tspan x="2199" y="4991">导学生健康成长。</tspan></text><line class="u" x1="2193" y1="5000" x2="2440" y2="5000"/></g>

<!-- 篇2 -->
<g id="p2"><rect class="bx" x="849" y="1708" width="205" height="34"/><text class="b" x="857" y="1730">班主任工作计划（通用）篇2</text></g>
<g id="d1"><text class="t"><tspan x="588" y="1049">今年我担任高一级(15)班的班主任。班主任是</tspan><tspan x="588" y="1064">学校教育工作的组织者、实施者，是教学工作</tspan><tspan x="588" y="1079">的协调者，而高一对于学生来说是个关键的学</tspan><tspan x="588" y="1094">年，这关系到他们的初高中的衔接问题，肩上</tspan><tspan x="588" y="1109">的责任重大。根据高一学生的实际特点和我们</tspan><tspan x="588" y="1124">学校的实际情况以及自身的条件，我制定出高</tspan><tspan x="588" y="1139">一（15）班的第一学期工作计划：</tspan></text><line class="u" x1="572" y1="1148" x2="838" y2="1148"/></g>
<g id="d1a"><text class="t" x="342" y="1021">一、指导思想：尊重；信任；平等；关爱</text><line class="u" x1="335" y1="1030" x2="570" y2="1030"/></g>
<g id="d1a1"><text class="t"><tspan x="75" y="811">在德育工作中，班主任要尊重并相信学生的力</tspan><tspan x="75" y="826">量，要相信学生都有积极的一面。如果班主任</tspan><tspan x="75" y="841">不负责任地去埋怨或者是批评或者是惩罚一个</tspan><tspan x="75" y="856">学生，就是对他人格的极度不尊重和不信任，</tspan><tspan x="75" y="871">那样的结果是换来学生对你的不尊重和不理解</tspan><tspan x="75" y="886">，结果是班主任工作的极难开展。我们也知道</tspan><tspan x="75" y="901">"己所不欲，勿施与人"，"用人不疑问，疑人</tspan><tspan x="75" y="916">不用"。只有在了解的基础上充分的尊重和信</tspan><tspan x="75" y="931">任，才能最大限度的发挥学生的潜能。平等不</tspan><tspan x="75" y="946">仅是指学生与班主任之间是平等的，还包括班</tspan><tspan x="75" y="961">主任对全体学生的一视同仁。只有做到这两点</tspan><tspan x="75" y="976">，班主任才能树立威信，并能和学生保持良好</tspan><tspan x="75" y="991">的交流。关爱学生是班主任开展工作的前提，</tspan><tspan x="75" y="1006">只有关注学生才能了解学生，才能顺利、有效</tspan><tspan x="75" y="1021">地开展德育工作。</tspan></text><line class="u" x1="68" y1="1030" x2="316" y2="1030"/></g>
<g id="d1b"><text class="t"><tspan x="319" y="1073">二、奋斗目标：让学生"学会做人"、"学会学</tspan><tspan x="319" y="1088">习"、"学会管理"、"学会生活"。</tspan></text><line class="u" x1="312" y1="1097" x2="570" y2="1097"/></g>
<g id="d1c"><text class="t" x="483" y="1256">三、具体措施</text><line class="u" x1="466" y1="1265" x2="570" y2="1265"/></g>
<g id="d1c1"><text class="t" x="324" y="1230.5">1、加强校规、校史教育</text><line class="u" x1="316" y1="1239.5" x2="465" y2="1239.5"/></g>
<g id="d1c1a"><text class="t"><tspan x="56" y="1140.5">让学生全面地了解学校的各项规章制度，行为</tspan><tspan x="56" y="1155.5">规范各个方面都符合东莞中学的要求，尽快完</tspan><tspan x="56" y="1170.5">成从一个初中生到高中生的转变，成为一名真</tspan><tspan x="56" y="1185.5">正的"莞中人"。同时，进行校史教育，使学生</tspan><tspan x="56" y="1200.5">全面地了解东莞中学，了解东莞中学的发展历</tspan><tspan x="56" y="1215.5">史，为自己成为一名东莞中学的学子而感到自</tspan><tspan x="56" y="1230.5">豪。</tspan></text><line class="u" x1="50.5" y1="1239.5" x2="296" y2="1239.5"/></g>
<g id="d1c2"><text class="t" x="321" y="1282">2、班级实行制度化管理</text><line class="u" x1="314" y1="1291" x2="465" y2="1291"/></g>
<g id="d1c2a"><text class="t" x="81" y="1282">(1) 制定班规，班级口号以及班级制度。</text><line class="u" x1="67" y1="1291" x2="295" y2="1291"/></g>
<g id="d2"><text class="t" x="705" y="2292">(2) 制定并实施班规：</text><line class="u" x1="680" y1="2301" x2="838" y2="2301"/></g>
<g id="d2a"><text class="t" x="558" y="1334">(4) 增强集体凝聚力</text><line class="u" x1="546" y1="1343" x2="679" y2="1343"/></g>
<g id="d2b"><text class="t"><tspan x="430" y="1386.5">增强集体的凝聚力，首先要建立文明向上的班</tspan><tspan x="430" y="1401.5">风。文明向上的班风是良好习惯养成的基础，</tspan><tspan x="430" y="1416.5">树立学生以高尚的品德、超人的才情、深厚的</tspan><tspan x="430" y="1431.5">学养为目标的人生追求，逐渐形成文明儒雅，</tspan><tspan x="430" y="1446.5">奋发向上班级风尚。在良好的班风里，学生可</tspan><tspan x="430" y="1461.5">以更加自由地发展自己的个性，把班级当作自</tspan><tspan x="430" y="1476.5">己的家，主动地爱护、建设班级。</tspan></text><line class="u" x1="424" y1="1485.5" x2="679" y2="1485.5"/></g>
<g id="d2c"><text class="t" x="504" y="1604">3、发挥主题班会和团会的作用</text><line class="u" x1="491" y1="1613" x2="679" y2="1613"/></g>
<g id="d2c1"><text class="t"><tspan x="236" y="1529">除了黑板报之外，主题班会与团会更像是一座</tspan><tspan x="236" y="1544">大熔炉，它能集中全班同学们的精华思想，进</tspan><tspan x="236" y="1559">而感染每一个同学，起到催化剂的作用。鉴于</tspan><tspan x="236" y="1574">此，我准备将全班同学分成12个小组，然后</tspan><tspan x="236" y="1589">让他们每个星期轮流组织一次班会或团会，每</tspan><tspan x="236" y="1604">个月再评选出一个办得最优秀的组进行奖励。</tspan></text><line class="u" x1="231.5" y1="1613" x2="477" y2="1613"/></g>
<g id="d2d"><text class="t" x="563" y="1861">4、抓好学生的学习</text><line class="u" x1="547" y1="1870" x2="679" y2="1870"/></g>
<g id="d2d1"><text class="t" x="321" y="1656">(1) 在班上树立正面、积极的学习榜样。</text><line class="u" x1="309" y1="1665" x2="546" y2="1665"/></g>
<g id="d2d2"><text class="t"><tspan x="295" y="1708">(2) 要求每位学生每月都要制定出自己学习</tspan><tspan x="295" y="1723">的计划。</tspan></text><line class="u" x1="289" y1="1732" x2="546" y2="1732"/></g>
<g id="d2d3"><text class="t"><tspan x="295" y="1774.6">(3) 每学段进行班级排名，表扬班级前15名</tspan><tspan x="295" y="1789.6">以及有进步的学生，并按班规进行加分奖励。</tspan></text><line class="u" x1="289" y1="1798.6" x2="546" y2="1798.6"/></g>
<g id="d2d4"><text class="t"><tspan x="295" y="1842">(4) 每天登记好学生交作业的情况，每周进</tspan><tspan x="295" y="1857">行总结。</tspan></text><line class="u" x1="289" y1="1866" x2="546" y2="1866"/></g>
<g id="d2d5"><text class="t" x="414" y="1908">(5) 协调各科目的学习</text><line class="u" x1="400" y1="1917" x2="546" y2="1917"/></g>
<g id="d2d6"><text class="t"><tspan x="295" y="1960.5">协调本班学生各科目的学习。整体上，帮助学</tspan><tspan x="295" y="1975.5">生调节各个科目的学习时间，使各个科目协调</tspan><tspan x="295" y="1990.5">发展。早晨督促学生按时上交各科作业，杜绝</tspan><tspan x="295" y="2005.5">抄袭现象。学生反映的作业量等问题及时反馈</tspan><tspan x="295" y="2020.5">给任课老师并与其交流。关注每一个同学每一</tspan><tspan x="295" y="2035.5">科目的学习情况，针对个别同学的偏科现象，</tspan><tspan x="295" y="2050.5">与其耐心交流，帮助其找出学习中的不足，努</tspan><tspan x="295" y="2065.5">力使其在所有学科上得到均衡的发展。</tspan></text><line class="u" x1="289" y1="2074.5" x2="546" y2="2074.5"/></g>
<g id="d2e"><text class="t" x="563" y="2178.5">5、注重宿舍管理。</text><line class="u" x1="558" y1="2187.5" x2="679" y2="2187.5"/></g>
<g id="d2e1"><text class="t"><tspan x="295" y="2118.5">我班共有35名住宿生，其中男生17名，女生1</tspan><tspan x="295" y="2133.5">8名，超过班里学生的一半，因此抓好宿舍工</tspan><tspan x="295" y="2148.5">作十分重要，给宿生营造一个舒适、干净、温</tspan><tspan x="295" y="2163.5">馨的家。班级及时公布宿舍评分，舍长每学段</tspan><tspan x="295" y="2178.5">评出受欢迎舍员，定期召开宿舍生会议。</tspan></text><line class="u" x1="289" y1="2187.5" x2="537" y2="2187.5"/></g>
<g id="d2f"><text class="t" x="480.5" y="2305">6、与家长共同完善对孩子的教育。</text><line class="u" x1="476" y1="2314" x2="679" y2="2314"/></g>
<g id="d2f1"><text class="t"><tspan x="212.5" y="2230">要经常与家长保持联系。由于学生除了学校之</tspan><tspan x="212.5" y="2245">外，最直接的教育就是来自于家庭。老师需要</tspan><tspan x="212.5" y="2260">通过家长了解学生在校外的学习和生活情况，</tspan><tspan x="212.5" y="2275">家长也需要通过老师了解孩子在家庭以外表现</tspan><tspan x="212.5" y="2290">出来的另一面。只有学校和家庭共同努力，才</tspan><tspan x="212.5" y="2305">能给予孩子跟完善、更成功的教育。</tspan></text><line class="u" x1="207" y1="2314" x2="456" y2="2314"/></g>
<g id="d2g"><text class="t"><tspan x="430" y="2357">7、制定高一（15）班班干部工作手册，重点</tspan><tspan x="430" y="2372">在明确班干职责：</tspan></text><line class="u" x1="424" y1="2381" x2="679" y2="2381"/></g>
<g id="d2h"><text class="t"><tspan x="430" y="2425">1、班长（副班长）：统筹安排，负责总体工</tspan><tspan x="430" y="2440">作，协调各部门工作，建立团结进取的大家庭</tspan></text><line class="u" x1="424" y1="2449" x2="679" y2="2449"/></g>
<g id="d2i"><text class="t"><tspan x="430" y="2491.6">2、学习委员：主管学习有关工作，组织学习</tspan><tspan x="430" y="2506.6">，帮助同学进步，带动全班进步。</tspan></text><line class="u" x1="424" y1="2515.6" x2="679" y2="2515.6"/></g>
<g id="d2j"><text class="t"><tspan x="430" y="2558">3、宣传委员：组建并管理宣传小组，主管班</tspan><tspan x="430" y="2573">内外的宣传工作，扩大信息量，提高同学的知</tspan><tspan x="430" y="2588">识广度和深度。</tspan></text><line class="u" x1="424" y1="2597" x2="679" y2="2597"/></g>
<g id="d2k"><text class="t"><tspan x="430" y="2640">4、劳动委员：劳动是愉快的责任，营造整洁</tspan><tspan x="430" y="2655">舒适的学习环境</tspan></text><line class="u" x1="424" y1="2664" x2="679" y2="2664"/></g>
<g id="d2l"><text class="t"><tspan x="430" y="2707">5、生活委员：为同学们的生活服务，为同学</tspan><tspan x="430" y="2722">提供帮助</tspan></text><line class="u" x1="424" y1="2731" x2="679" y2="2731"/></g>
<g id="d2m"><text class="t"><tspan x="430" y="2774.7">6、文娱委员：为同学们营造多姿多彩的校园</tspan><tspan x="430" y="2789.7">生活，让青春更充实</tspan></text><line class="u" x1="424" y1="2798.7" x2="679" y2="2798.7"/></g>
<g id="d2n"><text class="t"><tspan x="430" y="2841.7">7、体育委员：组织同学们每天坚持体育锻炼</tspan><tspan x="430" y="2856.7">，让身心放松，塑造健康的体魄</tspan></text><line class="u" x1="424" y1="2865.7" x2="679" y2="2865.7"/></g>
<g id="d2o"><text class="t"><tspan x="430" y="2908.7">8、纪律委员：主管班的课内外纪律，协助同</tspan><tspan x="430" y="2923.7">学自觉遵守各项规章制度，让每位同学成为严</tspan><tspan x="430" y="2938.7">于律己的人</tspan></text><line class="u" x1="424" y1="2947.7" x2="679" y2="2947.7"/></g>
<g id="d2p"><text class="t"><tspan x="430" y="2990.5">9、电教委员：电教设备的应用和管理，协助</tspan><tspan x="430" y="3005.5">老师使用电教器材</tspan></text><line class="u" x1="424" y1="3014.5" x2="679" y2="3014.5"/></g>
<g id="d2q"><text class="t"><tspan x="430" y="3057.5">10、团支书组织委员：发展团员，团组织活</tspan><tspan x="430" y="3072.5">动，让同学体验团结友爱的集体生活，提高同</tspan><tspan x="430" y="3087.5">学的思想觉悟。</tspan></text><line class="u" x1="424" y1="3096.5" x2="679" y2="3096.5"/></g>
<g id="d2r"><text class="t"><tspan x="430" y="3139">11、科代表：协助科任老师上好课，在本学科</tspan><tspan x="430" y="3154">学习上起带头示范作用，使全班同学各学科全</tspan><tspan x="430" y="3169">面发展。</tspan></text><line class="u" x1="424" y1="3178" x2="679" y2="3178"/></g>
<g id="d2s"><text class="t"><tspan x="430" y="3237">12、班级管理员：建设有特色的班集体，培</tspan><tspan x="430" y="3252">养和提升个人才能，拟建立以下组织：</tspan></text><line class="u" x1="423" y1="3261" x2="679" y2="3261"/></g>
<g id="d2s1"><text class="t"><tspan x="163" y="3222">（1）图书资料管理员：（2）报纸管理员（3</tspan><tspan x="163" y="3237">）宿舍管理员（4）班史记录员（5）摄影师</tspan><tspan x="163" y="3252">（6）班刊、文学小组。</tspan></text><line class="u" x1="156" y1="3261" x2="402" y2="3261"/></g>

<!-- 篇4 -->
<g id="p4"><rect class="bx" x="849" y="3538" width="205" height="34"/><text class="b" x="857" y="3560">班主任工作计划（通用）篇4</text></g>
<g id="e1"><text class="t" x="727.5" y="3304">基本措施和做法。</text><line class="u" x1="722.5" y1="3313" x2="838" y2="3313"/></g>
<g id="e2"><text class="t" x="700" y="3441.6">1、了解学生思想状况。</text><line class="u" x1="691" y1="3450.6" x2="838" y2="3450.6"/></g>
<g id="e2a"><text class="t"><tspan x="433" y="3366.6">了解和研究学生是做好班主任工作的前提。我</tspan><tspan x="433" y="3381.6">刚接手该班，对学生的情况可以说，只是从以</tspan><tspan x="433" y="3396.6">前老师那里获得一点点。但学生的内心世界，</tspan><tspan x="433" y="3411.6">我一窍不通，况且学生每天都在变化。为了深</tspan><tspan x="433" y="3426.6">入了解学生的思想状况，我主要采取以下几种</tspan><tspan x="433" y="3441.6">途径：</tspan></text><line class="u" x1="424" y1="3450.6" x2="672" y2="3450.6"/></g>
<g id="e2a1"><text class="t"><tspan x="165" y="3356">⑴与学生交谈。有计划地利用课下与学生交谈</tspan><tspan x="165" y="3371">，了解学生情况。⑵不定期检查学生的作业</tspan><tspan x="165" y="3386">。通过检查学生的作业，了解学生的学习情况</tspan><tspan x="165" y="3401">。</tspan></text><line class="u" x1="158" y1="3410" x2="415" y2="3410"/></g>
<g id="e2a2"><text class="t"><tspan x="165" y="3452">⑶进行家庭访问、召开家长会。通过与小学生</tspan><tspan x="165" y="3467">父母的对话，了解小学生在家庭、社会等方面</tspan><tspan x="165" y="3482">的表现情况。</tspan></text><line class="u" x1="158" y1="3491" x2="415" y2="3491"/></g>
<g id="e3"><text class="t"><tspan x="588" y="3612.6">2、抓好班主任的日常工作；施行班级小组互</tspan><tspan x="588" y="3627.6">助学习。</tspan></text><line class="u" x1="572" y1="3636.6" x2="838" y2="3636.6"/></g>
<g id="e3a"><text class="t" x="379" y="3534.6">⑴、组织好学生参加升旗和做操。</text><line class="u" x1="372" y1="3543.6" x2="570" y2="3543.6"/></g>
<g id="e3b"><text class="t" x="449" y="3586">培养学生的爱国情感</text><line class="u" x1="442" y1="3595" x2="570" y2="3595"/></g>
<g id="e3c"><text class="t"><tspan x="319" y="3639">⑵、检查本班学生值日生工作。班级的值日制</tspan><tspan x="319" y="3654">是培养小学生良好道德品质和自治自理能力的</tspan><tspan x="319" y="3669">重要途径。</tspan></text><line class="u" x1="313.6" y1="3678" x2="570" y2="3678"/></g>
<g id="e3d"><text class="t" x="459.5" y="3721">⑶、组织好放学。</text><line class="u" x1="454.6" y1="3730" x2="570" y2="3730"/></g>
<g id="e4"><text class="t" x="698" y="3787">3、组织和培养班集体。</text><line class="u" x1="691" y1="3796" x2="838" y2="3796"/></g>
<g id="e4a"><text class="t"><tspan x="430" y="3772">⑴确立共同的奋斗目标、培养良好的班风。共</tspan><tspan x="430" y="3787">同的目标是班集体</tspan></text><line class="u" x1="423" y1="3796" x2="670" y2="3796"/></g>
</g>
</svg>
